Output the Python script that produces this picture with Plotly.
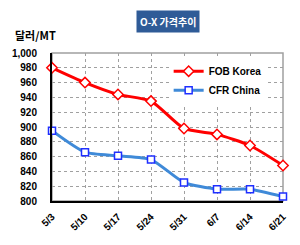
import plotly.graph_objects as go

categories = ["5/3", "5/10", "5/17", "5/24", "5/31", "6/7", "6/14", "6/21"]
fob_korea = [980, 960, 944, 935, 898, 890, 875, 848]
cfr_china = [895, 866, 861, 856, 825, 816, 816, 806]
y_ticks = [800, 820, 840, 860, 880, 900, 920, 940, 960, 980, 1000]

fig = go.Figure()
fig.add_trace(go.Scatter(
    x=categories, y=fob_korea, name="FOB Korea", mode="lines+markers",
    line=dict(color="#FF0000", width=3, shape="spline", smoothing=0.6),
    marker=dict(symbol="diamond", size=8, color="white", line=dict(color="#FF0000", width=1.5)),
    cliponaxis=False,
))
fig.add_trace(go.Scatter(
    x=categories, y=cfr_china, name="CFR China", mode="lines+markers",
    line=dict(color="#3F8AD8", width=3, shape="spline", smoothing=0.6),
    marker=dict(symbol="square", size=7, color="white", line=dict(color="#1F2FFF", width=1.5)),
    cliponaxis=False,
))

font_main = "Liberation Sans, Arial, sans-serif"
fig.update_layout(
    width=300, height=245,
    margin=dict(l=41, r=13, t=53, b=44),
    paper_bgcolor="white", plot_bgcolor="white",
    showlegend=True,
    legend=dict(x=0.505, y=0.975, xanchor="left", yanchor="top",
                bgcolor="white", font=dict(family=font_main, size=10, color="black", weight="bold"),
                itemwidth=30, tracegroupgap=0, borderwidth=0),
    xaxis=dict(type="category", range=[0, 7], tickangle=-45,
               tickfont=dict(family=font_main, size=10, color="black", weight="bold"),
               showgrid=True, gridcolor="#A0A0A0", griddash="dot", gridwidth=1,
               showline=True, linecolor="black", linewidth=2, ticks="", zeroline=False,
               ticklabelstandoff=4),
    yaxis=dict(range=[800, 1000], tickvals=y_ticks, tickformat=",",
               tickfont=dict(family=font_main, size=10, color="black", weight="bold"),
               showgrid=True, gridcolor="#A0A0A0", griddash="dot", gridwidth=1,
               showline=True, linecolor="black", linewidth=2, ticks="", zeroline=False,
               ticklabelstandoff=11),
    shapes=[dict(type="rect", xref="paper", yref="paper", x0=0, y0=0, x1=1, y1=1,
                 line=dict(color="#A0A0A0", width=1.5), layer="below")],
    annotations=[
        dict(text="O-X 가격추이", xref="paper", yref="paper", x=0.504, y=1.216,
             xanchor="center", yanchor="middle", showarrow=False,
             bgcolor="#2F5B97", borderpad=3,
             font=dict(family="Noto Sans CJK KR", size=10, color="white", weight="bold")),
        dict(text="달러/MT", xref="paper", yref="paper", x=-0.17, y=1.125,
             xanchor="left", yanchor="middle", showarrow=False,
             font=dict(family="Noto Sans CJK KR", size=11, color="black", weight="bold")),
    ],
)

fig.write_html("out.html")
